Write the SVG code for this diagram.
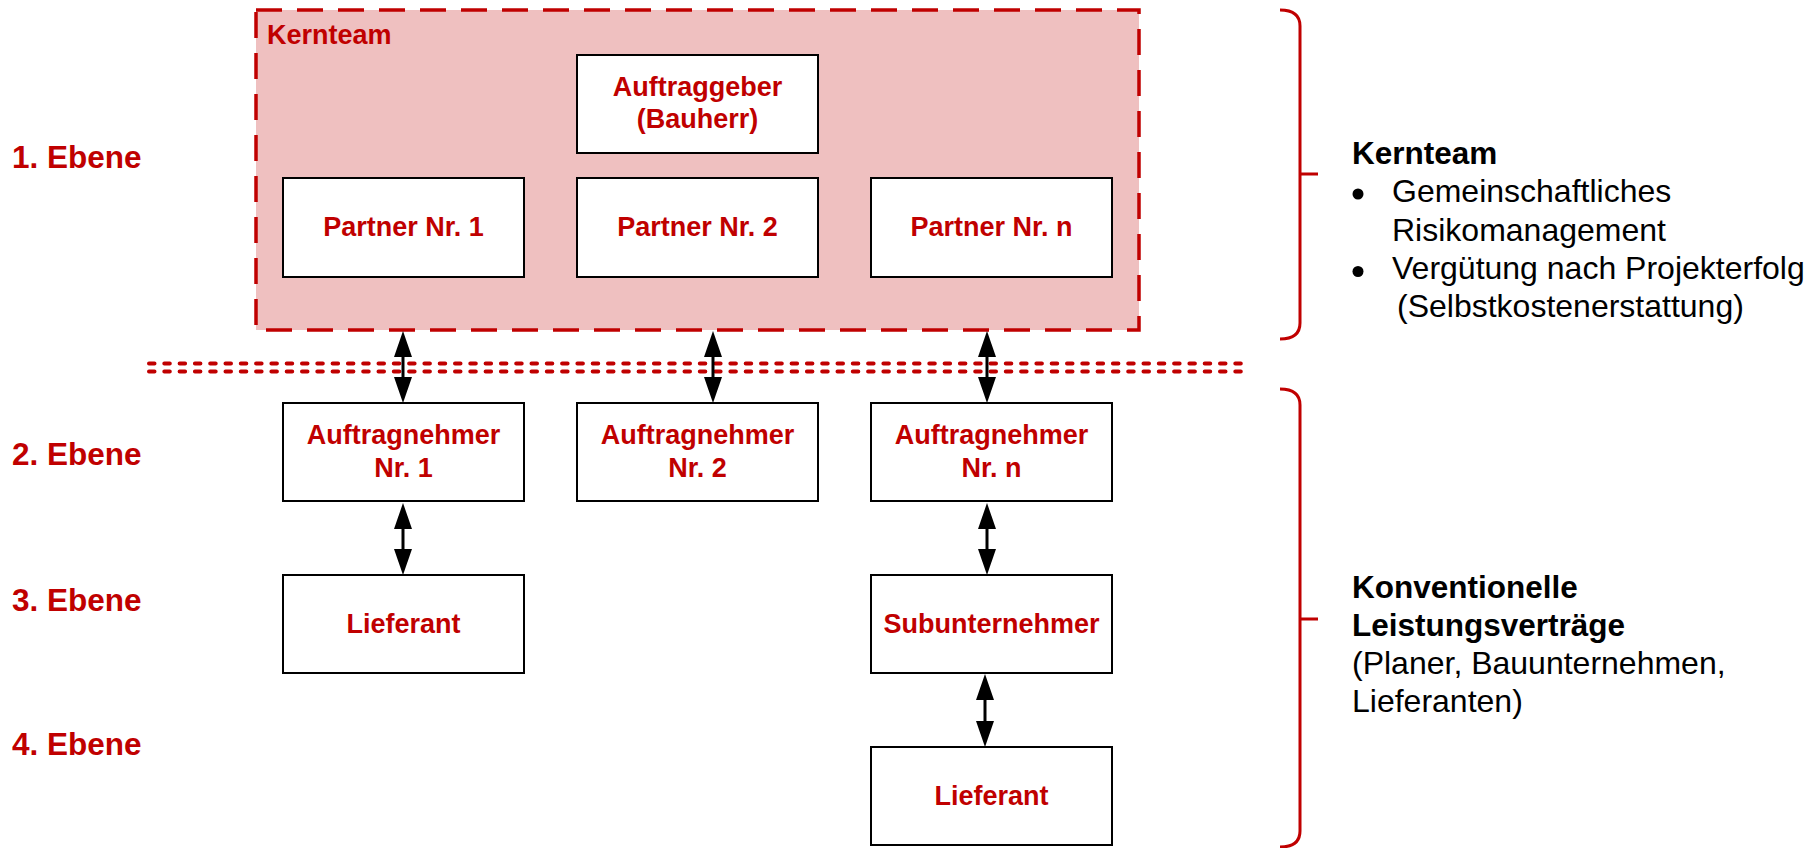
<svg xmlns="http://www.w3.org/2000/svg" width="1820" height="848" viewBox="0 0 1820 848">
<style>
.box{fill:#ffffff;stroke:#000000;stroke-width:2}
.bt{font-family:"Liberation Sans",Arial,sans-serif;font-weight:bold;font-size:27px;fill:#C00000;text-anchor:middle}
.lvl{font-family:"Liberation Sans",Arial,sans-serif;font-weight:bold;font-size:31.5px;fill:#C00000}
.rb{font-family:"Liberation Sans",Arial,sans-serif;font-weight:bold;font-size:31.5px;fill:#000000}
.rt{font-family:"Liberation Sans",Arial,sans-serif;font-size:32px;fill:#000000}
.brace{fill:none;stroke:#C00000;stroke-width:3}
.dots{fill:none;stroke:#C00000;stroke-width:4;stroke-linecap:round;stroke-dasharray:5.5 9.8}
.arr{fill:none;stroke:#000000;stroke-width:3;marker-start:url(#ah);marker-end:url(#ah)}
</style>
<defs>
<marker id="ah" viewBox="0 0 26 18" refX="6" refY="9" markerWidth="26" markerHeight="18" markerUnits="userSpaceOnUse" orient="auto-start-reverse">
<path d="M0,0 L26,9 L0,18 Z" fill="#000000"/>
</marker>
</defs>

<g id="kernteam-group">
<rect x="256" y="10" width="883" height="320" fill="#EFC0C0" stroke="#C00000" stroke-width="3.5" stroke-dasharray="26 15"/>
<text x="267" y="44" class="bt" style="text-anchor:start">Kernteam</text>
</g>

<g id="auftraggeber">
<rect class="box" x="577" y="55" width="241" height="98"/>
<text class="bt" x="697.5" y="96">Auftraggeber</text>
<text class="bt" x="697.5" y="128">(Bauherr)</text>
</g>
<g id="partner1">
<rect class="box" x="283" y="178" width="241" height="99"/>
<text class="bt" x="403.5" y="236">Partner Nr. 1</text>
</g>
<g id="partner2">
<rect class="box" x="577" y="178" width="241" height="99"/>
<text class="bt" x="697.5" y="236">Partner Nr. 2</text>
</g>
<g id="partnern">
<rect class="box" x="871" y="178" width="241" height="99"/>
<text class="bt" x="991.5" y="236">Partner Nr. n</text>
</g>

<g id="divider">
<line class="dots" x1="149" y1="363.5" x2="1250" y2="363.5"/>
<line class="dots" x1="149" y1="371.5" x2="1250" y2="371.5"/>
</g>

<g id="an1">
<rect class="box" x="283" y="403" width="241" height="98"/>
<text class="bt" x="403.5" y="444">Auftragnehmer</text>
<text class="bt" x="403.5" y="477">Nr. 1</text>
</g>
<g id="an2">
<rect class="box" x="577" y="403" width="241" height="98"/>
<text class="bt" x="697.5" y="444">Auftragnehmer</text>
<text class="bt" x="697.5" y="477">Nr. 2</text>
</g>
<g id="ann">
<rect class="box" x="871" y="403" width="241" height="98"/>
<text class="bt" x="991.5" y="444">Auftragnehmer</text>
<text class="bt" x="991.5" y="477">Nr. n</text>
</g>
<g id="lieferant1">
<rect class="box" x="283" y="575" width="241" height="98"/>
<text class="bt" x="403.5" y="633">Lieferant</text>
</g>
<g id="subunternehmer">
<rect class="box" x="871" y="575" width="241" height="98"/>
<text class="bt" x="991.5" y="633">Subunternehmer</text>
</g>
<g id="lieferant2">
<rect class="box" x="871" y="747" width="241" height="98"/>
<text class="bt" x="991.5" y="805">Lieferant</text>
</g>

<g id="connectors">
<line class="arr" x1="403" y1="351" x2="403" y2="383"/>
<line class="arr" x1="713" y1="351" x2="713" y2="383"/>
<line class="arr" x1="987" y1="351" x2="987" y2="383"/>
<line class="arr" x1="403" y1="523" x2="403" y2="555"/>
<line class="arr" x1="987" y1="523" x2="987" y2="555"/>
<line class="arr" x1="985" y1="694" x2="985" y2="727"/>
</g>

<g id="levels">
<text class="lvl" x="12" y="168">1. Ebene</text>
<text class="lvl" x="12" y="465">2. Ebene</text>
<text class="lvl" x="12" y="611">3. Ebene</text>
<text class="lvl" x="12" y="755">4. Ebene</text>
</g>

<g id="brace-top">
<path class="brace" d="M1280,10 Q1300,10 1300,26 L1300,323 Q1300,339 1280,339 M1300,174 L1318,174"/>
</g>
<g id="brace-bottom">
<path class="brace" d="M1280,389 Q1300,389 1300,405 L1300,831 Q1300,847 1280,847 M1300,619 L1318,619"/>
</g>

<g id="kernteam-text">
<text class="rb" x="1352" y="164">Kernteam</text>
<circle cx="1358" cy="194" r="5.5"/>
<text class="rt" x="1392" y="202">Gemeinschaftliches</text>
<text class="rt" x="1392" y="240.5">Risikomanagement</text>
<circle cx="1358" cy="271.5" r="5.5"/>
<text class="rt" x="1392" y="279">Vergütung nach Projekterfolg</text>
<text class="rt" x="1397" y="317">(Selbstkostenerstattung)</text>
</g>

<g id="konventionelle-text">
<text class="rb" x="1352" y="598">Konventionelle</text>
<text class="rb" x="1352" y="636">Leistungsverträge</text>
<text class="rt" x="1352" y="673.5">(Planer, Bauunternehmen,</text>
<text class="rt" x="1352" y="712">Lieferanten)</text>
</g>
</svg>
